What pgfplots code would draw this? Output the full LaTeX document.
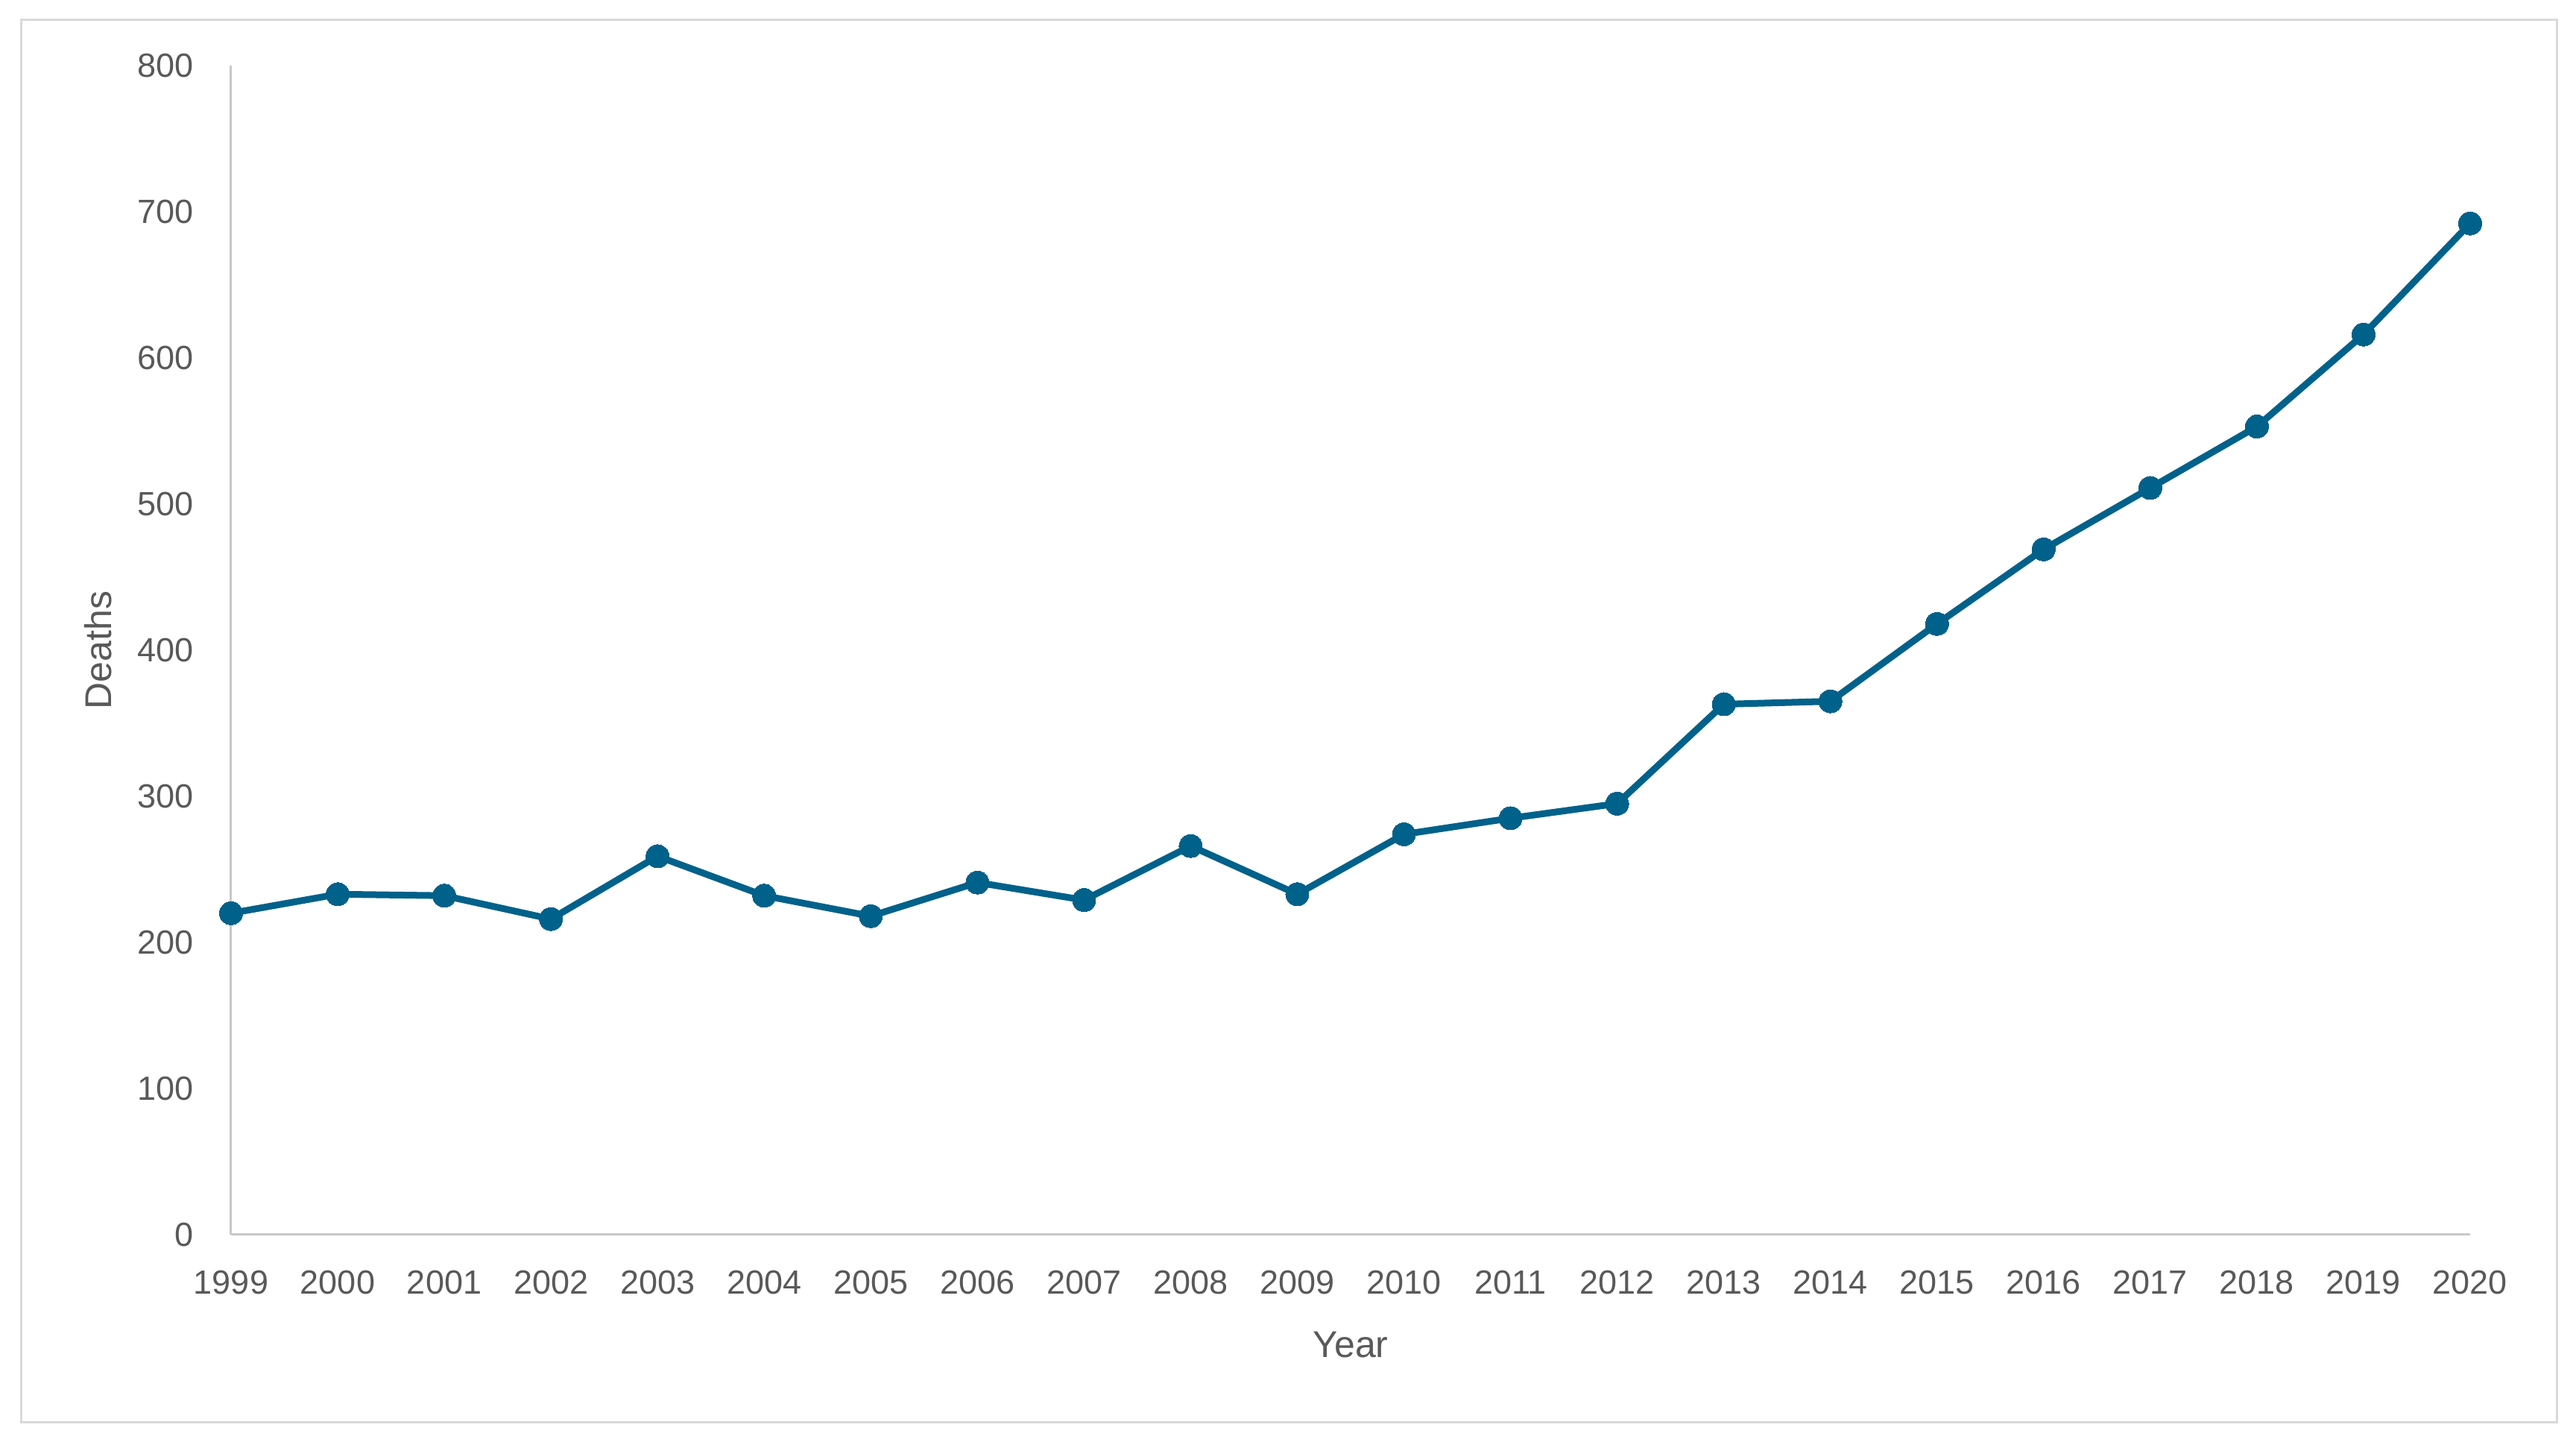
\documentclass[border=0pt]{standalone}
\usepackage{fontspec}
\setmainfont{Liberation Sans}
\usepackage{pgfplots}
\pgfplotsset{compat=1.18}
\definecolor{linec}{HTML}{00618A}
\definecolor{txt}{HTML}{595959}
\definecolor{axc}{HTML}{C8C8C8}
\definecolor{framec}{HTML}{D9D9D9}
\begin{document}
\begin{tikzpicture}
\useasboundingbox (0,0) rectangle (691.2pt,387.6pt);
\draw[framec, line width=0.6pt] (5.6pt,6pt) rectangle (686pt,382.2pt);
\begin{axis}[
  at={(62pt,56.4pt)}, anchor=south west,
  width=600.8pt, height=313.6pt, scale only axis,
  xmin=1999, xmax=2020, ymin=0, ymax=800,
  axis x line*=bottom, axis y line*=left,
  axis line style={axc, line width=0.6pt, -},
  xtick={1999,...,2020}, ytick={0,100,...,800},
  major tick length=0pt,
  /pgf/number format/1000 sep={},
  /pgf/number format/assume math mode=true,
  ticklabel style={font=\fontsize{9}{10}\selectfont, text=txt},
  xticklabel style={anchor=north, yshift=-6pt},
  yticklabel style={anchor=east, xshift=-6.6pt},
  label style={font=\fontsize{10}{12}\selectfont, text=txt},
  xlabel={Year}, ylabel={Deaths},
  xlabel style={at={(axis description cs:0.5,-0.0938)}, anchor=center},
  ylabel style={at={(axis description cs:-0.0593,0.5)}, anchor=center},
  clip=false,
]
\addplot[linec, line width=1.8pt, mark=*, mark size=3.1pt,
  mark options={fill=linec, draw=linec, line width=0pt}]
  coordinates {
  (1999,220) (2000,233) (2001,232) (2002,216) (2003,259) (2004,232)
  (2005,218) (2006,241) (2007,229) (2008,266) (2009,233) (2010,274)
  (2011,285) (2012,295) (2013,363) (2014,365) (2015,418) (2016,469)
  (2017,511) (2018,553) (2019,616) (2020,692)
  };
\end{axis}
\end{tikzpicture}
\end{document}
